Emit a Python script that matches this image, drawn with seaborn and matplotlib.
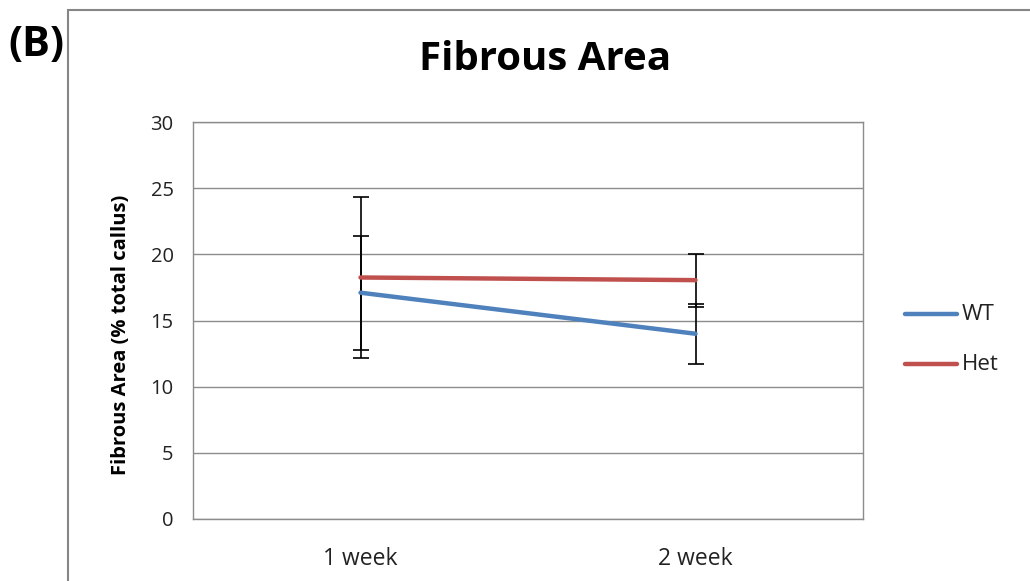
import matplotlib
matplotlib.use("Agg")
import matplotlib.pyplot as plt
import seaborn as sns
import pandas as pd
from matplotlib.patches import Rectangle

# Fibrous area of the callus (% total callus), mean and SD per group
timepoints = ["1 week", "2 week"]
wt_mean = [17.1, 14.0]
wt_err = [4.3, 2.25]
het_mean = [18.25, 18.05]
het_err = [6.1, 2.0]
groups = ["WT", "Het"]
colors = {"WT": "#4F81BD", "Het": "#C0504D"}
y_ticks = [0, 5, 10, 15, 20, 25, 30]

df = pd.DataFrame({
    "Time": timepoints * 2,
    "x": [0, 1, 0, 1],
    "Area": wt_mean + het_mean,
    "Err": wt_err + het_err,
    "Group": ["WT"] * 2 + ["Het"] * 2,
})

sns.set_style("white")
plt.rcParams["font.family"] = ["Open Sans", "DejaVu Sans"]

fig = plt.figure(figsize=(10.3, 5.81), dpi=100)
ax = fig.add_axes([193 / 1030, 1 - 519 / 581, 670 / 1030, 397 / 581])

# outer chart frame
fig.patches.append(Rectangle((68 / 1030, -0.05), 1.2, 1 - 10 / 581 + 0.05,
                             transform=fig.transFigure, fill=False,
                             edgecolor="#868686", linewidth=1.5))

for y in y_ticks:
    ax.axhline(y, color="#8C8C8C", linewidth=1.0, zorder=0)

for g in groups:
    sub = df[df["Group"] == g]
    ax.errorbar(sub["x"], sub["Area"], yerr=sub["Err"], fmt="none",
                ecolor="black", elinewidth=1.2, capsize=6, capthick=1.2, zorder=2)

sns.lineplot(data=df, x="x", y="Area", hue="Group", palette=colors,
             hue_order=groups, linewidth=3.2, ax=ax, legend=False, zorder=3)

ax.set_xlim(-0.5, 1.5)
ax.set_ylim(0, 30)
ax.set_xticks([0, 1])
ax.set_xticklabels(timepoints, fontsize=16.5, color="#222222")
ax.set_yticks(y_ticks)
ax.set_yticklabels([str(v) for v in y_ticks], fontsize=14.5, color="#222222")
ax.tick_params(axis="x", length=0, pad=20)
ax.tick_params(axis="y", length=0, pad=14)
ax.set_xlabel("")
ax.set_ylabel("Fibrous Area (% total callus)", fontsize=14.5, fontweight="bold",
              color="black")
ax.yaxis.set_label_coords(-0.092, 0.463)
for s in ax.spines.values():
    s.set_color("#8C8C8C")
    s.set_linewidth(1.0)

fig.text(545 / 1030, 1 - 60 / 581, "Fibrous Area", fontsize=29,
         fontweight="bold", ha="center", va="center", color="black")

# legend on the right
for i, g in enumerate(groups):
    yf = 1 - (314 + 50 * i) / 581
    fig.lines.append(plt.Line2D([905 / 1030, 957 / 1030], [yf, yf],
                                transform=fig.transFigure, color=colors[g],
                                linewidth=3.2))
    fig.text(962 / 1030, yf, g, fontsize=16, va="center", ha="left",
             color="#222222")

fig.text(8 / 1030, 1 - 45 / 581, "(B)", fontsize=30, fontweight="bold",
         va="center", ha="left", color="black")

fig.savefig("out.png", dpi=100)
